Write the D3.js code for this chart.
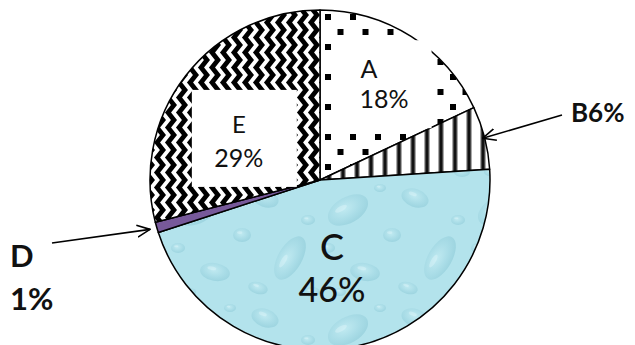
<!DOCTYPE html>
<html>
<head>
<meta charset="utf-8">
<script src="https://cdn.jsdelivr.net/npm/d3@7"></script>
<style>
  html, body { margin: 0; padding: 0; background: #fff; overflow: hidden; }
  svg { display: block; font-family: "Lato", "Noto Sans", sans-serif; }
</style>
</head>
<body>
<div id="chart"></div>
<script>
// chart data
const categories = ["A", "B", "C", "D", "E"];
const shares = [18, 6, 46, 1, 29];
const shareLabels = ["18%", "6%", "46%", "1%", "29%"];

const width = 635, height = 345;
const cx = 320, cy = 180, radius = 170;

const svg = d3.select("#chart").append("svg")
    .attr("width", width)
    .attr("height", height);

const defs = svg.append("defs");

// --- fill patterns ---
// A: square dots
const dots = defs.append("pattern")
    .attr("id", "pat-A")
    .attr("patternUnits", "userSpaceOnUse")
    .attr("x", 5).attr("y", -166)
    .attr("width", 25).attr("height", 30);
dots.append("rect").attr("width", 25).attr("height", 30).attr("fill", "#fff");
dots.append("rect").attr("x", 0).attr("y", 0).attr("width", 6).attr("height", 6).attr("fill", "#000");
dots.append("rect").attr("x", 12.5).attr("y", 15).attr("width", 6).attr("height", 6).attr("fill", "#000");

// B: vertical stripes
const stripes = defs.append("pattern")
    .attr("id", "pat-B")
    .attr("patternUnits", "userSpaceOnUse")
    .attr("x", 2).attr("width", 14).attr("height", 10);
stripes.append("rect").attr("width", 14).attr("height", 10).attr("fill", "#fff");
stripes.append("rect").attr("x", 4).attr("width", 6).attr("height", 10).attr("fill", "#aaa");
stripes.append("rect").attr("x", 5).attr("width", 4).attr("height", 10).attr("fill", "#555");
stripes.append("rect").attr("x", 5.8).attr("width", 2.4).attr("height", 10).attr("fill", "#111");

// E: zigzag
const zig = defs.append("pattern")
    .attr("id", "pat-E")
    .attr("patternUnits", "userSpaceOnUse")
    .attr("width", 11).attr("height", 15);
zig.append("rect").attr("width", 11).attr("height", 15).attr("fill", "#fff");
[-11, 0, 11].forEach(ox => {
    zig.append("path")
        .attr("d", `M${ox + 2},-7.5 L${ox + 8},0 L${ox + 2},7.5 L${ox + 8},15 L${ox + 2},22.5`)
        .attr("fill", "none")
        .attr("stroke", "#000")
        .attr("stroke-width", 4.8);
});

// C: water drops
const grad = defs.append("radialGradient").attr("id", "drop-grad")
    .attr("cx", "45%").attr("cy", "40%").attr("r", "60%");
grad.append("stop").attr("offset", "0%").attr("stop-color", "#c9eef4");
grad.append("stop").attr("offset", "60%").attr("stop-color", "#a4d9e4");
grad.append("stop").attr("offset", "100%").attr("stop-color", "#8fcbd8");

const water = defs.append("pattern")
    .attr("id", "pat-C")
    .attr("patternUnits", "userSpaceOnUse")
    .attr("width", 150).attr("height", 120);
water.append("rect").attr("width", 150).attr("height", 120).attr("fill", "#b3e3ec");
const drops = [
    [28, 30, 22, 13, -30], [95, 18, 14, 9, 20], [120, 78, 24, 12, -60],
    [45, 92, 15, 9, 10], [72, 55, 9, 7, 0], [138, 40, 7, 5, 0],
    [8, 68, 7, 5, 0], [88, 108, 10, 6, 15], [142, 112, 8, 5, 0],
    [60, 8, 6, 4, 0], [20, 112, 6, 4, 0]
];
drops.forEach(d => {
    water.append("ellipse")
        .attr("cx", d[0]).attr("cy", d[1]).attr("rx", d[2]).attr("ry", d[3])
        .attr("transform", `rotate(${d[4]},${d[0]},${d[1]})`)
        .attr("fill", "url(#drop-grad)")
        .attr("opacity", 0.6);
    water.append("ellipse")
        .attr("cx", d[0] - d[2] * 0.25).attr("cy", d[1] - d[3] * 0.35)
        .attr("rx", d[2] * 0.3).attr("ry", d[3] * 0.2)
        .attr("transform", `rotate(${d[4]},${d[0]},${d[1]})`)
        .attr("fill", "#e8f8fa").attr("opacity", 0.35);
});

const fills = {
    A: "url(#pat-A)",
    B: "url(#pat-B)",
    C: "url(#pat-C)",
    D: "#77599a",
    E: "url(#pat-E)"
};

// arrow head
defs.append("marker")
    .attr("id", "arrow")
    .attr("viewBox", "0 -7 14 14")
    .attr("refX", 13).attr("refY", 0)
    .attr("markerUnits", "userSpaceOnUse")
    .attr("markerWidth", 14).attr("markerHeight", 14)
    .attr("orient", "auto")
    .append("path")
    .attr("d", "M0,-6 L13,0 L0,6")
    .attr("fill", "none")
    .attr("stroke", "#000")
    .attr("stroke-width", 1.6);

// --- pie ---
const data = categories.map((c, i) => ({ cat: c, value: shares[i], label: shareLabels[i] }));

const pie = d3.pie().sort(null).value(d => d.value);
const arc = d3.arc().innerRadius(0).outerRadius(radius);
const arcs = pie(data);

const g = svg.append("g").attr("transform", `translate(${cx},${cy})`);

g.selectAll("path.slice")
    .data(arcs)
    .enter()
    .append("path")
    .attr("class", "slice")
    .attr("d", arc)
    .attr("fill", d => fills[d.data.cat])
    .attr("stroke", "#000")
    .attr("stroke-width", 1.5)
    .attr("stroke-linejoin", "round");

// inside labels (A, C, E)
const inside = {
    A: { dx: -6, dy: -30, size: 25, size2: 25, weight: 400, gap: 30, box: [-24, -38, 96, 88], anchor: "start" },
    C: { dx: -4, dy: -3, size: 36, size2: 34, weight: 500, gap: 42, box: null, anchor: "middle" },
    E: { dx: -14, dy: 5, size: 24, size2: 25, weight: 400, gap: 34, box: [-47, -43, 105, 97], anchor: "middle" }
};

arcs.filter(d => inside[d.data.cat]).forEach(d => {
    const cfg = inside[d.data.cat];
    const [px, py] = arc.centroid(d);
    const x = px + cfg.dx, y = py + cfg.dy;
    if (cfg.box) {
        g.append("rect")
            .attr("x", x + cfg.box[0]).attr("y", y + cfg.box[1])
            .attr("width", cfg.box[2]).attr("height", cfg.box[3])
            .attr("fill", "#fff");
    }
    const t = g.append("text")
        .attr("x", x)
        .attr("y", y)
        .attr("text-anchor", cfg.anchor)
        .style("font-weight", cfg.weight)
        .attr("fill", "#111");
    t.append("tspan").attr("x", cfg.anchor === "start" ? x + 1 : x)
        .style("font-size", cfg.size + "px")
        .text(d.data.cat);
    t.append("tspan").attr("x", x).attr("dy", cfg.gap)
        .style("font-size", cfg.size2 + "px")
        .text(d.data.label);
});

// outside labels with arrows (B, D)
const outside = {
    B: { tipR: radius - 2, tail: [562, 115], tx: 571, ty: 122, size: 26, lines: d => [d.data.cat + d.data.label] },
    D: { tipR: radius + 7, tail: [52, 243], tx: 10, ty: 267, size: 31, lines: d => [d.data.cat, d.data.label] }
};

arcs.filter(d => outside[d.data.cat]).forEach(d => {
    const cfg = outside[d.data.cat];
    const a = (d.startAngle + d.endAngle) / 2;
    const tipX = cx + cfg.tipR * Math.sin(a);
    const tipY = cy - cfg.tipR * Math.cos(a);
    svg.append("line")
        .attr("x1", cfg.tail[0]).attr("y1", cfg.tail[1])
        .attr("x2", tipX).attr("y2", tipY)
        .attr("stroke", "#000")
        .attr("stroke-width", 1.6)
        .attr("marker-end", "url(#arrow)");
    const t = svg.append("text")
        .attr("x", cfg.tx).attr("y", cfg.ty)
        .style("font-size", cfg.size + "px")
        .style("font-weight", 700)
        .attr("fill", "#111");
    cfg.lines(d).forEach((s, i) => {
        t.append("tspan").attr("x", cfg.tx).attr("dy", i === 0 ? 0 : 43).text(s);
    });
});
</script>
</body>
</html>
